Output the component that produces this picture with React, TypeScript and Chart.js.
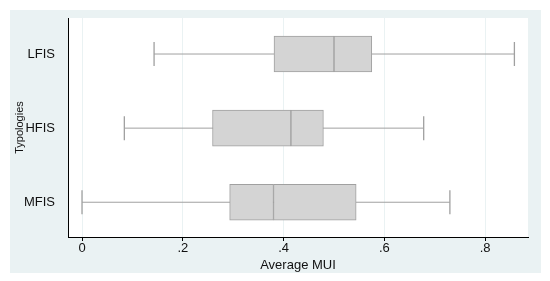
import React, { useEffect, useRef } from "react";
import { Chart, registerables } from "chart.js";

Chart.register(...registerables);

// ---- data ----
const categories = ["MFIS", "HFIS", "LFIS"];
const categoryPositions = [1, 2, 3];
const whiskerLow = [0.0, 0.084, 0.143];
const quartile1 = [0.293, 0.259, 0.381];
const medians = [0.38, 0.4145, 0.5];
const quartile3 = [0.544, 0.479, 0.575];
const whiskerHigh = [0.73, 0.678, 0.858];
const xTicks = [0, 0.2, 0.4, 0.6, 0.8];
const xTickLabels = ["0", ".2", ".4", ".6", ".8"];

const FONT = "'Liberation Sans', Arial, Helvetica, sans-serif";
const BOX_FILL = "#d4d4d4";
const BOX_BORDER = "#a0a0a0";
const WHISKER = "#a0a0a0";
const PANEL = "#eaf2f3";

const panelPlugin = {
  id: "panelBg",
  beforeDraw(chart: any) {
    const { ctx, chartArea: a } = chart;
    ctx.save();
    ctx.fillStyle = "#ffffff";
    ctx.fillRect(0, 0, chart.width, chart.height);
    ctx.fillStyle = PANEL;
    ctx.fillRect(10, 10, 531, 263);
    ctx.fillStyle = "#ffffff";
    ctx.fillRect(a.left, a.top, a.right - a.left, a.bottom - a.top);
    ctx.restore();
  },
};

export default function App() {
  const ref = useRef<HTMLCanvasElement | null>(null);

  useEffect(() => {
    if (!ref.current) return;

    const whiskerSets = categories.map((c, i) => ({
      type: "line" as const,
      label: c + " whisker",
      data: [
        { x: whiskerLow[i], y: categoryPositions[i] },
        { x: whiskerHigh[i], y: categoryPositions[i] },
      ],
      borderColor: WHISKER,
      borderWidth: 1,
      pointStyle: "line" as const,
      pointRadius: 12,
      pointRotation: 90,
      pointBorderColor: WHISKER,
      pointBorderWidth: 1.3,
      pointBackgroundColor: WHISKER,
      fill: false,
      order: 3,
    }));

    const boxCommon = {
      type: "bar" as const,
      backgroundColor: BOX_FILL,
      borderColor: BOX_BORDER,
      borderWidth: 1,
      borderSkipped: false as const,
      barThickness: 36,
      grouped: false,
      indexAxis: "y" as const,
      order: 1,
    };

    const chart = new Chart(ref.current, {
      type: "bar",
      data: {
        datasets: [
          ...whiskerSets,
          {
            ...boxCommon,
            label: "Q1-Median",
            data: categoryPositions.map((p, i) => ({ x: [quartile1[i], medians[i]], y: p })),
          },
          {
            ...boxCommon,
            label: "Median-Q3",
            data: categoryPositions.map((p, i) => ({ x: [medians[i], quartile3[i]], y: p })),
          },
        ] as any,
      },
      options: {
        animation: false,
        responsive: false,
        devicePixelRatio: 1,
        indexAxis: "y",
        layout: { padding: { left: 0, top: 18, right: 22, bottom: 0 } },
        plugins: {
          legend: { display: false },
          tooltip: { enabled: false },
        },
        scales: {
          x: {
            type: "linear",
            position: "bottom",
            offset: false,
            min: -0.0278,
            max: 0.885,
            afterBuildTicks: (scale: any) => {
              scale.ticks = xTicks.map((v) => ({ value: v }));
            },
            afterFit: (scale: any) => {
              scale.height = 44;
            },
            ticks: {
              callback: (v: any) => {
                const idx = xTicks.findIndex((t) => Math.abs(t - Number(v)) < 1e-9);
                return idx >= 0 ? xTickLabels[idx] : "";
              },
              color: "#111",
              font: { family: FONT, size: 13 },
              padding: 0,
              maxRotation: 0,
            },
            grid: {
              offset: false,
              color: PANEL,
              tickColor: "#000",
              tickLength: 4,
              lineWidth: 1,
            },
            border: { display: true, color: "#000", width: 1 },
            title: {
              display: true,
              text: "Average MUI",
              color: "#111",
              font: { family: FONT, size: 13 },
              padding: { top: 0, bottom: 8 },
            },
          },
          y: {
            type: "linear",
            position: "left",
            offset: false,
            min: 0.531,
            max: 3.486,
            afterBuildTicks: (scale: any) => {
              scale.ticks = categoryPositions.map((v) => ({ value: v }));
            },
            afterFit: (scale: any) => {
              scale.width = 68;
            },
            ticks: {
              callback: (v: any) => {
                const idx = categoryPositions.indexOf(Number(v));
                return idx >= 0 ? categories[idx] : "";
              },
              color: "#111",
              font: { family: FONT, size: 13 },
              padding: 5,
            },
            grid: { display: false, offset: false },
            border: { display: true, color: "#000", width: 1 },
            title: {
              display: true,
              text: "Typologies",
              color: "#111",
              font: { family: FONT, size: 11 },
              padding: { top: 13, bottom: 0 },
            },
          },
        },
      },
      plugins: [panelPlugin],
    });

    return () => chart.destroy();
  }, []);

  return (
    <div style={{ position: "absolute", left: 0, top: 0, width: 550, height: 281 }}>
      <canvas ref={ref} width={550} height={281} />
    </div>
  );
}
